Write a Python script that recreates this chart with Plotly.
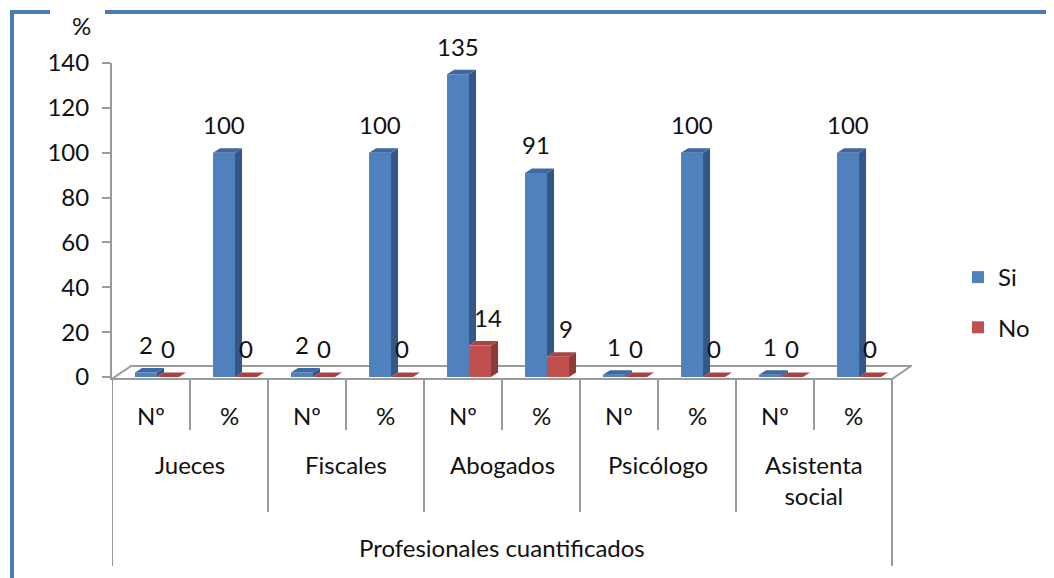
import plotly.graph_objects as go

# ---------------- data ----------------
groups = ["Jueces", "Fiscales", "Abogados", "Psicólogo", "Asistenta<br>social"]
sub_labels = ["Nº", "%"]
si_values = [2, 100, 2, 100, 135, 91, 1, 100, 1, 100]
no_values = [0, 0, 0, 0, 14, 9, 0, 0, 0, 0]
y_ticks = [0, 20, 40, 60, 80, 100, 120, 140]
x_title = "Profesionales cuantificados"
y_title = "%"
series_names = ["Si", "No"]

# ---------------- styling / geometry ----------------
PAGE_OFF = 8                       # default body margin of the html page
W, H = 1054 - PAGE_OFF, 578 - PAGE_OFF
# plot-area edges given in page pixels
PX_L, PX_R, PX_T, PX_B = 112, 912, 63, 380
X_RANGE = [-0.5, 9.756]
Y_RANGE = [-1.34, 140]
FONT = "Lato"
FS = 24
TXT = "#111111"
GRAY = "#9a9a9a"

BLUE, BLUE_SIDE, BLUE_TOP = "#4F81BD", "#34578A", "#3E68A3"
RED, RED_SIDE, RED_TOP = "#C0504D", "#8E3A38", "#A84542"

BAR_W = 0.282
OFF_SI = -0.205
OFF_NO = OFF_SI + BAR_W
DX = 0.09       # bar depth (x units)
DY = 2.0        # bar depth (y units)
FLOOR_Y0, FLOOR_Y1, FLOOR_DX = -0.9, 4.9, 0.244


def pxx(px):
    return (px - PX_L) / (PX_R - PX_L)


def pxy(py):
    return (PX_B - py) / (PX_B - PX_T)


n = len(si_values)
xs = list(range(n))

fig = go.Figure()

fig.add_trace(go.Bar(x=xs, y=si_values, width=BAR_W, offset=OFF_SI, name=series_names[0],
                     marker=dict(color=BLUE, line=dict(width=0)), legendgroup="a",
                     hoverinfo="skip"))
fig.add_trace(go.Bar(x=xs, y=no_values, width=BAR_W, offset=OFF_NO, name=series_names[1],
                     marker=dict(color=RED, line=dict(width=0)), legendgroup="b",
                     hoverinfo="skip"))


def faces(values, off, base_vals=None):
    sx, sy, tx, ty = [], [], [], []
    for i, v in enumerate(values):
        x0 = i + off
        x1 = x0 + BAR_W
        b = 0 if base_vals is None else base_vals[i]
        # side face
        sx += [x1, x1 + DX, x1 + DX, x1, x1, None]
        sy += [b, b + DY, v + DY, v, b, None]
        # top face
        tx += [x0, x1, x1 + DX, x0 + DX, x0, None]
        ty += [v, v, v + DY, v + DY, v, None]
    return sx, sy, tx, ty


bsx, bsy, btx, bty = faces(si_values, OFF_SI, base_vals=no_values)
rsx, rsy, rtx, rty = faces(no_values, OFF_NO)
for fx, fy, col in [(bsx, bsy, BLUE_SIDE), (btx, bty, BLUE_TOP),
                    (rsx, rsy, RED_SIDE), (rtx, rty, RED_TOP)]:
    fig.add_trace(go.Scatter(x=fx, y=fy, fill="toself", mode="lines",
                             line=dict(width=0, color=col), fillcolor=col,
                             showlegend=False, hoverinfo="skip", cliponaxis=False))

annotations = []
# data labels
for i, v in enumerate(si_values):
    annotations.append(dict(x=i + OFF_SI + BAR_W / 2, y=v, xref="x", yref="y", text=str(v),
                            showarrow=False, yshift=28, yanchor="middle", xanchor="center",
                            font=dict(family=FONT, size=FS, color=TXT)))
for i, v in enumerate(no_values):
    annotations.append(dict(x=i + OFF_NO + BAR_W / 2, y=v, xref="x", yref="y", text=str(v),
                            showarrow=False, yshift=28, xshift=8 if v > 0 else 0,
                            yanchor="middle", xanchor="center",
                            font=dict(family=FONT, size=FS, color=TXT)))
# sub category labels
for i in xs:
    annotations.append(dict(x=i, y=pxy(415), xref="x", yref="paper",
                            text=sub_labels[i % 2], showarrow=False, yanchor="middle",
                            xanchor="center",
                            font=dict(family=FONT, size=FS, color=TXT)))
# group labels
for g, name in enumerate(groups):
    annotations.append(dict(x=2 * g + 0.5, y=pxy(448), xref="x", yref="paper",
                            text=name, showarrow=False, yanchor="top", xanchor="center",
                            font=dict(family=FONT, size=FS, color=TXT)))
# axis titles
annotations.append(dict(x=(n - 1) / 2, y=pxy(547), xref="x", yref="paper", text=x_title,
                        showarrow=False, yanchor="middle", xanchor="center",
                        font=dict(family=FONT, size=FS, color=TXT)))
annotations.append(dict(x=pxx(81), y=pxy(25), xref="paper", yref="paper", text=y_title,
                        showarrow=False, yanchor="middle", xanchor="center",
                        font=dict(family=FONT, size=FS, color=TXT)))

shapes = []
# floor
x_a, x_b = -0.5, n - 0.5
shapes.append(dict(type="path", xref="x", yref="y", layer="below",
                   path=f"M {x_a},{FLOOR_Y0} L {x_b},{FLOOR_Y0} L {x_b + FLOOR_DX},{FLOOR_Y1} "
                        f"L {x_a + FLOOR_DX},{FLOOR_Y1} Z",
                   fillcolor="white", line=dict(color=GRAY, width=2)))
# dividers
for k in range(n + 1):
    xk = k - 0.5
    if k == 0 or k == n:
        bottom = 566
    elif k % 2 == 0:
        bottom = 512
    else:
        bottom = 430
    shapes.append(dict(type="line", xref="x", yref="paper", x0=xk, x1=xk,
                       y0=pxy(379), y1=pxy(bottom), line=dict(color=GRAY, width=2)))
# outer frame (blue)
FRAME = "#4A7EBB"
shapes.append(dict(type="line", xref="paper", yref="paper", x0=pxx(10), x1=pxx(50),
                   y0=pxy(12), y1=pxy(12), line=dict(color=FRAME, width=4)))
shapes.append(dict(type="line", xref="paper", yref="paper", x0=pxx(105), x1=pxx(1060),
                   y0=pxy(12), y1=pxy(12), line=dict(color=FRAME, width=4)))
shapes.append(dict(type="line", xref="paper", yref="paper", x0=pxx(12), x1=pxx(12),
                   y0=pxy(10), y1=pxy(590), line=dict(color=FRAME, width=4)))

fig.update_layout(
    width=W, height=H, autosize=False,
    margin=dict(l=PX_L - PAGE_OFF, r=(1054 - PX_R), t=PX_T - PAGE_OFF, b=(578 - PX_B)),
    paper_bgcolor="white", plot_bgcolor="rgba(0,0,0,0)",
    barmode="overlay",
    font=dict(family=FONT, size=FS, color=TXT),
    xaxis=dict(range=X_RANGE, showgrid=False, zeroline=False, showticklabels=False,
               ticks="", showline=False, fixedrange=True),
    yaxis=dict(range=Y_RANGE, tickvals=y_ticks, showgrid=False, zeroline=False,
               showline=True, linecolor=GRAY, linewidth=2, ticks="outside", ticklen=8,
               tickwidth=2, tickcolor=GRAY, ticklabelstandoff=8,
               tickfont=dict(family=FONT, size=FS, color=TXT), fixedrange=True),
    legend=dict(x=pxx(958), y=pxy(255), xanchor="left", yanchor="top",
                font=dict(family=FONT, size=FS, color=TXT), tracegroupgap=16,
                bgcolor="rgba(0,0,0,0)"),
    annotations=annotations,
    shapes=shapes,
    showlegend=True,
)

fig.write_html("out.html")
